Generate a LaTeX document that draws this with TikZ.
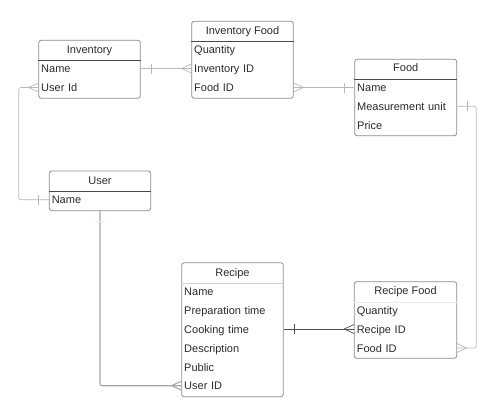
\documentclass[tikz,border=0pt]{standalone}
\usepackage{fontspec}
\setmainfont{Liberation Sans}
\usetikzlibrary{arrows.meta}

% Crow's foot ("many") end: prongs meet the entity edge, apex 10pt away
\pgfdeclarearrow{
  name = CrowFoot,
  setup code = {
    \pgfarrowssettipend{0pt}
    \pgfarrowssetlineend{0pt}
    \pgfarrowssetbackend{-10pt}
    \pgfarrowssetvisualbackend{-10pt}
    \pgfarrowshullpoint{0pt}{4.5pt}
    \pgfarrowshullpoint{0pt}{-4.5pt}
    \pgfarrowshullpoint{-10pt}{0pt}
  },
  drawing code = {
    \pgfsetdash{}{0pt}
    \pgfsetroundjoin
    \pgfpathmoveto{\pgfqpoint{0pt}{4.5pt}}
    \pgfpathlineto{\pgfqpoint{-10pt}{0pt}}
    \pgfpathlineto{\pgfqpoint{0pt}{-4.5pt}}
    \pgfusepathqstroke
  }
}

% "One" end: a single cross bar 10.5pt before the entity edge
\pgfdeclarearrow{
  name = OneBar,
  setup code = {
    \pgfarrowssettipend{0pt}
    \pgfarrowssetlineend{0pt}
    \pgfarrowssetbackend{-10.5pt}
    \pgfarrowssetvisualbackend{-10.5pt}
    \pgfarrowshullpoint{-10.5pt}{5pt}
    \pgfarrowshullpoint{-10.5pt}{-5pt}
    \pgfarrowshullpoint{0pt}{0pt}
  },
  drawing code = {
    \pgfsetdash{}{0pt}
    \pgfpathmoveto{\pgfqpoint{-10.5pt}{5pt}}
    \pgfpathlineto{\pgfqpoint{-10.5pt}{-5pt}}
    \pgfusepathqstroke
  }
}

\definecolor{boxline}{HTML}{8C8C8C}
\definecolor{ink}{HTML}{2B2B2B}
\definecolor{rulemid}{HTML}{4A4A4A}
\definecolor{rulelight}{HTML}{D2D2D2}
\definecolor{rulefaint}{HTML}{EAEAEA}
\definecolor{linklight}{HTML}{B8B8B8}
\definecolor{linkdark}{HTML}{4F4F4F}

\begin{document}
\begin{tikzpicture}[x=1pt,y=-1pt,
  tablebox/.style={draw=boxline, line width=0.8pt, rounded corners=2.5pt,
    fill=white, inner sep=0pt},
  headtext/.style={font=\fontsize{11}{13}\selectfont, text=ink, inner sep=0pt,
    text height=8pt, text depth=0pt},
  field/.style={font=\fontsize{11}{13}\selectfont, text=ink, align=left,
    inner xsep=2.5pt, inner ysep=5pt, text height=8pt, text depth=0pt},
  headrule/.style={line width=0.8pt, draw=rulemid},
  link/.style={line width=0.7pt, draw=linklight, rounded corners=2pt},
]
\useasboundingbox (0,0) rectangle (496,407);

% ---------- Inventory ----------
\node[tablebox, minimum width=101.6pt, minimum height=58pt] (inv) at (89.5,69.3) {};
\node[headtext] (inv-head) at (89.5,49.3) {Inventory};
\draw[headrule] (inv.west |- 0,60.3) -- (inv.east |- 0,60.3);
\node[field, text width=96.6pt] (inv-name) at (89.5,68.5) {Name};
\node[field, text width=96.6pt] (inv-user) at (89.5,87.5) {User Id};

% ---------- Inventory Food ----------
\node[tablebox, minimum width=101.6pt, minimum height=77pt] (invf) at (242.5,59.8) {};
\node[headtext] (invf-head) at (242.5,30) {Inventory Food};
\draw[headrule] (invf.west |- 0,41.3) -- (invf.east |- 0,41.3);
\node[field, text width=96.6pt] (invf-qty) at (242.5,49.5) {Quantity};
\node[field, text width=96.6pt] (invf-inv) at (242.5,68.5) {Inventory ID};
\node[field, text width=96.6pt] (invf-food) at (242.5,87.5) {Food ID};

% ---------- Food ----------
\node[tablebox, minimum width=102pt, minimum height=76.4pt] (food) at (405.7,97.5) {};
\node[headtext] (food-head) at (405.7,67.7) {Food};
\draw[headrule] (food.west |- 0,79.3) -- (food.east |- 0,79.3);
\node[field, text width=97pt] (food-name) at (405.7,87.5) {Name};
\node[field, text width=97pt] (food-unit) at (405.7,106.3) {Measurement unit};
\node[field, text width=97pt] (food-price) at (405.7,125) {Price};

% ---------- User ----------
\node[tablebox, minimum width=101.4pt, minimum height=39.7pt] (user) at (100,190.85) {};
\node[headtext] (user-head) at (100,180) {User};
\draw[headrule] (user.west |- 0,191.3) -- (user.east |- 0,191.3);
\node[field, text width=96.4pt] (user-name) at (100,199.7) {Name};

% ---------- Recipe ----------
\node[tablebox, minimum width=101.6pt, minimum height=134pt] (rec) at (232.5,329.7) {};
\node[headtext] (rec-head) at (232.5,272) {Recipe};
\draw[headrule, draw=rulelight] (rec.west |- 0,283) -- (rec.east |- 0,283);
\node[field, text width=96.6pt] (rec-name) at (232.5,291.7) {Name};
\node[field, text width=96.6pt] (rec-prep) at (232.5,310.3) {Preparation time};
\node[field, text width=96.6pt] (rec-cook) at (232.5,329) {Cooking time};
\node[field, text width=96.6pt] (rec-desc) at (232.5,348.3) {Description};
\node[field, text width=96.6pt] (rec-pub) at (232.5,367) {Public};
\node[field, text width=96.6pt] (rec-user) at (232.5,385.7) {User ID};

% ---------- Recipe Food ----------
\node[tablebox, minimum width=102.4pt, minimum height=76.6pt] (rf) at (405.5,320) {};
\node[headtext] (rf-head) at (405.5,290.7) {Recipe Food};
\draw[headrule, draw=rulefaint] (rf.west |- 0,302.3) -- (rf.east |- 0,302.3);
\node[field, text width=97.4pt] (rf-qty) at (405.5,310.3) {Quantity};
\node[field, text width=97.4pt] (rf-rec) at (405.5,329) {Recipe ID};
\node[field, text width=97.4pt] (rf-food) at (405.5,348) {Food ID};

% ---------- Relationships ----------
\draw[link, {OneBar}-{CrowFoot}] (inv-name.east) -- (invf-inv.west);
\draw[link, {CrowFoot}-{OneBar}] (invf-food.east) -- (food-name.west);
\draw[link, {CrowFoot}-{OneBar}] (inv-user.west) -- ++(-19.7,0) |- (user-name.west);
\draw[link, line width=1.1pt, draw=linklight!90!black, {OneBar[color=rulefaint]}-{CrowFoot}]
  (user.south) |- (rec-user.west);
\draw[link, draw=linkdark, {OneBar}-{CrowFoot}] (rec-cook.east) -- (rf-rec.west);
\draw[link, {OneBar}-{CrowFoot}] (food-unit.east) -- ++(19.3,0) |- (rf-food.east);
\end{tikzpicture}
\end{document}
